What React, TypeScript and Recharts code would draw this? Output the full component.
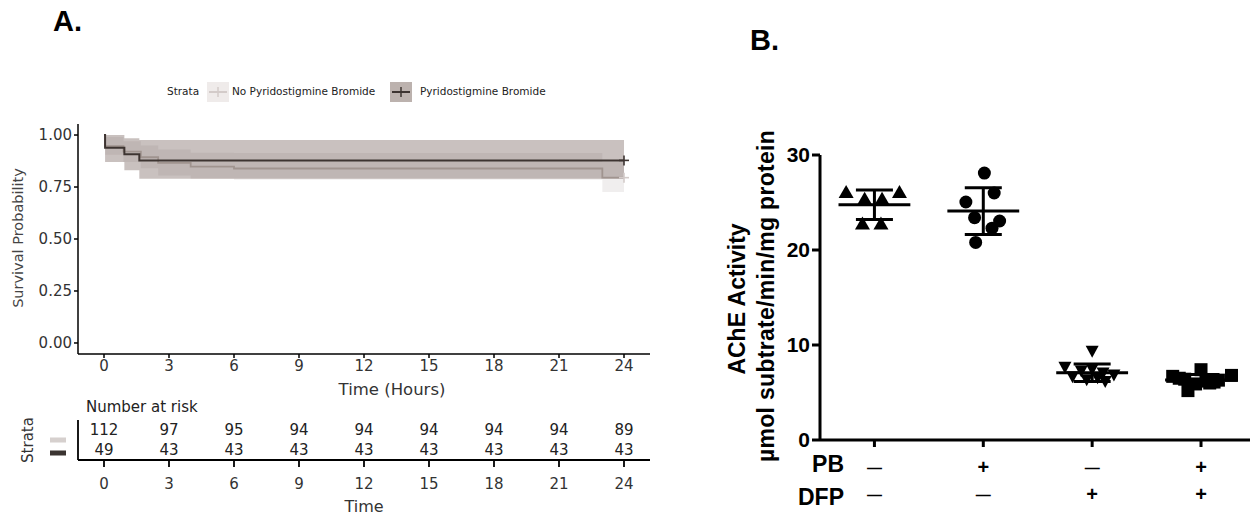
import React from "react";
import { ComposedChart, Line, Area, Scatter, XAxis, YAxis, ReferenceLine } from "recharts";

const FONT_A = "'DejaVu Sans', 'Liberation Sans', Arial, sans-serif";
const FONT_B = "'Liberation Sans', Arial, Helvetica, sans-serif";

// ---- Panel A: Kaplan-Meier survival ----
// No Pyridostigmine Bromide
const noPbTime = [0, 0.05, 0.9, 1.7, 2.5, 4.0, 6.0, 23.0, 24];
const noPbSurv = [1, 0.946, 0.92, 0.893, 0.866, 0.848, 0.839, 0.795, 0.795];
const noPbLower = [1, 0.905, 0.87, 0.84, 0.805, 0.79, 0.785, 0.726, 0.726];
const noPbUpper = [1, 0.99, 0.97, 0.95, 0.93, 0.915, 0.913, 0.87, 0.87];

// Pyridostigmine Bromide
const pbTime = [0, 0.05, 0.94, 1.63, 24];
const pbSurv = [1, 0.939, 0.908, 0.878, 0.878];
const pbLower = [1, 0.87, 0.83, 0.79, 0.79];
const pbUpper = [1, 1, 0.985, 0.976, 0.976];

const timeTicks = [0, 3, 6, 9, 12, 15, 18, 21, 24];
const survTicks = [0, 0.25, 0.5, 0.75, 1];

// number at risk table
const riskNoPb = [112, 97, 95, 94, 94, 94, 94, 94, 89];
const riskPb = [49, 43, 43, 43, 43, 43, 43, 43, 43];

// ---- Panel B: AChE activity ----
const groupIds = [1, 2, 3, 4];
const pbSigns = ["\u2014", "+", "\u2014", "+"];
const dfpSigns = ["\u2014", "\u2014", "+", "+"];
const actTicks = [0, 10, 20, 30];

const g1Vals = [26.1, 25.4, 25.4, 26.1, 22.8, 22.8];
const g1Jit = [-0.26, -0.09, 0.07, 0.23, -0.11, 0.06];
const g2Vals = [28.1, 25.05, 26.0, 23.4, 23.05, 22.3, 20.8];
const g2Jit = [0.01, -0.16, 0.1, -0.08, 0.15, 0.08, -0.07];
const g3Vals = [9.3, 7.6, 7.4, 7.2, 7.0, 6.8, 6.6, 6.5, 6.3, 6.1];
const g3Jit = [0, -0.25, 0.0, -0.1, 0.1, 0.2, -0.18, 0.05, -0.05, 0.12];
const g4Vals = [6.7, 6.8, 7.4, 5.2, 6.4, 6.1, 6.3, 5.9, 6.0, 6.2, 6.5];
const g4Jit = [-0.26, 0.28, 0.0, -0.12, -0.15, 0.12, 0.16, -0.05, 0.08, 0.05, -0.2];

const kmRows = (t: number[], s: number[], lo: number[], hi: number[]) =>
  t.map((time, i) => ({ time, surv: s[i], ci: [lo[i], hi[i]] }));

const noPbRows = kmRows(noPbTime, noPbSurv, noPbLower, noPbUpper);
const pbRows = kmRows(pbTime, pbSurv, pbLower, pbUpper);

const Cross = ({ cx, cy, fill }: any) => (
  <g stroke={fill} strokeWidth={1.6}>
    <line x1={cx - 5} x2={cx + 5} y1={cy} y2={cy} />
    <line x1={cx} x2={cx} y1={cy - 5} y2={cy + 5} />
  </g>
);

const LegendKey = ({ bg, line }: { bg: string; line: string }) => (
  <svg width={22} height={20} style={{ display: "block" }}>
    <rect width={22} height={20} fill={bg} />
    <line x1={2} x2={20} y1={10} y2={10} stroke={line} strokeWidth={2} />
    <line x1={11} x2={11} y1={5} y2={15} stroke={line} strokeWidth={1.5} />
  </svg>
);

const axisTickA = { fontSize: 15, fill: "#333", fontFamily: FONT_A };

function SurvivalPanel() {
  return (
    <ComposedChart width={660} height={290} margin={{ top: 14, right: 10, bottom: 0, left: 0 }}>
      <XAxis
        type="number"
        dataKey="time"
        domain={[-1.2, 25.2]}
        ticks={timeTicks}
        allowDataOverflow
        height={46}
        tickSize={4}
        tick={axisTickA}
        stroke="#000"
        strokeWidth={1.5}
      />
      <YAxis
        type="number"
        domain={[-0.053, 1.053]}
        ticks={survTicks}
        allowDataOverflow
        width={78}
        tickSize={4}
        tick={axisTickA}
        tickFormatter={(v: number) => v.toFixed(2)}
        stroke="#000"
        strokeWidth={1.5}
      />
      <Area
        data={pbRows}
        dataKey="ci"
        type="stepAfter"
        fill="rgb(120,100,95)"
        fillOpacity={0.4}
        stroke="none"
        isAnimationActive={false}
      />
      <Area
        data={noPbRows}
        dataKey="ci"
        type="stepAfter"
        fill="rgb(110,90,85)"
        fillOpacity={0.1}
        stroke="none"
        isAnimationActive={false}
      />
      <Line
        data={noPbRows}
        dataKey="surv"
        type="stepAfter"
        stroke="#a0948f"
        strokeWidth={1.8}
        dot={false}
        isAnimationActive={false}
      />
      <Line
        data={pbRows}
        dataKey="surv"
        type="stepAfter"
        stroke="#3d3431"
        strokeWidth={2}
        dot={false}
        isAnimationActive={false}
      />
      <Scatter data={[noPbRows[noPbRows.length - 1]]} dataKey="surv" fill="#d3cbc9" shape={Cross} isAnimationActive={false} />
      <Scatter data={[pbRows[pbRows.length - 1]]} dataKey="surv" fill="#3d3431" shape={Cross} isAnimationActive={false} />
    </ComposedChart>
  );
}

const riskRows = timeTicks.flatMap((time, i) => [
  { time, row: 2, n: riskNoPb[i] },
  { time, row: 1, n: riskPb[i] },
]);

const RiskText = ({ cx, cy, payload }: any) => (
  <text x={cx} y={cy} textAnchor="middle" dominantBaseline="central" fontSize={15} fill="#222" fontFamily={FONT_A}>
    {payload.n}
  </text>
);

const StrataKey = ({ y, payload }: any) => {
  const top = payload.value === 2;
  return <rect x={50} y={y + (top ? 7.5 : 0.5)} width={16} height={5} fill={top ? "#d6d0ce" : "#3a3431"} />;
};

function RiskTable() {
  return (
    <ComposedChart width={660} height={115} margin={{ top: 20, right: 10, bottom: 0, left: 0 }}>
      <XAxis
        type="number"
        dataKey="time"
        domain={[-1.2, 25.2]}
        ticks={timeTicks}
        allowDataOverflow
        height={55}
        tickSize={7}
        tick={{ ...axisTickA, dy: 9 }}
        stroke="#000"
        strokeWidth={1.8}
        label={{ value: "Time", position: "insideBottom", offset: 3, fontSize: 16, fill: "#333", fontFamily: FONT_A }}
      />
      <YAxis
        type="number"
        dataKey="row"
        domain={[0.5, 2.5]}
        ticks={[1, 2]}
        interval={0}
        width={78}
        tickLine={false}
        tick={StrataKey}
        stroke="#000"
        strokeWidth={1.8}
      />
      <Scatter data={riskRows} dataKey="row" shape={RiskText} isAnimationActive={false} />
    </ComposedChart>
  );
}

// ---- Panel B shapes ----
const TriUp = ({ cx, cy }: any) => (
  <polygon points={`${cx},${cy - 7} ${cx + 7.5},${cy + 6} ${cx - 7.5},${cy + 6}`} fill="#000" />
);
const TriDown = ({ cx, cy }: any) => (
  <polygon points={`${cx - 6.5},${cy - 6} ${cx + 6.5},${cy - 6} ${cx},${cy + 6}`} fill="#000" />
);
const Dot = ({ cx, cy }: any) => <circle cx={cx} cy={cy} r={6.5} fill="#000" />;
const Square = ({ cx, cy }: any) => <rect x={cx - 6.5} y={cy - 6.5} width={13} height={13} fill="#000" />;

const mean = (a: number[]) => a.reduce((s, v) => s + v, 0) / a.length;
const sd = (a: number[]) => {
  const m = mean(a);
  return Math.sqrt(a.reduce((s, v) => s + (v - m) * (v - m), 0) / (a.length - 1));
};

const groups = [
  { id: 1, vals: g1Vals, jit: g1Jit, shape: TriUp },
  { id: 2, vals: g2Vals, jit: g2Jit, shape: Dot },
  { id: 3, vals: g3Vals, jit: g3Jit, shape: TriDown },
  { id: 4, vals: g4Vals, jit: g4Jit, shape: Square },
];

const SignTick = ({ x, y, payload }: any) => {
  const i = groupIds.indexOf(payload.value);
  const txt = { textAnchor: "middle" as const, dominantBaseline: "central" as const, fontFamily: FONT_B, fontWeight: 700, fill: "#000" };
  return (
    <g>
      <text x={x} y={y + 18} fontSize={pbSigns[i] === "+" ? 20 : 15} {...txt}>{pbSigns[i]}</text>
      <text x={x} y={y + 45} fontSize={dfpSigns[i] === "+" ? 20 : 15} {...txt}>{dfpSigns[i]}</text>
    </g>
  );
};

function ActivityPanel() {
  const seg = { stroke: "#000", strokeWidth: 3, ifOverflow: "visible" as const };
  return (
    <ComposedChart width={560} height={385} margin={{ top: 25, right: 10, bottom: 0, left: 0 }}>
      <XAxis
        type="number"
        dataKey="x"
        domain={[0.5, 4.45]}
        ticks={groupIds}
        allowDataOverflow
        height={75}
        tickSize={7}
        tick={SignTick}
        stroke="#000"
        strokeWidth={3}
      />
      <YAxis
        type="number"
        dataKey="y"
        domain={[0, 30]}
        ticks={actTicks}
        width={120}
        tickSize={8}
        tick={{ fontSize: 21, fontWeight: 700, fill: "#000", fontFamily: FONT_B }}
        stroke="#000"
        strokeWidth={3}
      />
      {groups.map((g) => {
        const m = mean(g.vals);
        const s = sd(g.vals);
        return (
          <React.Fragment key={g.id}>
            <ReferenceLine segment={[{ x: g.id - 0.33, y: m }, { x: g.id + 0.33, y: m }]} {...seg} />
            <ReferenceLine segment={[{ x: g.id, y: m - s }, { x: g.id, y: m + s }]} {...seg} />
            <ReferenceLine segment={[{ x: g.id - 0.17, y: m + s }, { x: g.id + 0.17, y: m + s }]} {...seg} />
            <ReferenceLine segment={[{ x: g.id - 0.17, y: m - s }, { x: g.id + 0.17, y: m - s }]} {...seg} />
          </React.Fragment>
        );
      })}
      {groups.map((g) => (
        <Scatter
          key={`s${g.id}`}
          data={g.vals.map((y, i) => ({ x: g.id + g.jit[i], y }))}
          dataKey="y"
          shape={g.shape}
          isAnimationActive={false}
        />
      ))}
    </ComposedChart>
  );
}

export default function App() {
  const abs = (left: number, top: number): React.CSSProperties => ({ position: "absolute", left, top });
  const txtA: React.CSSProperties = { fontFamily: FONT_A, color: "#222", whiteSpace: "nowrap" };
  const bold: React.CSSProperties = { fontFamily: FONT_B, fontWeight: 700, color: "#000", whiteSpace: "nowrap" };
  const centered = (deg: number): React.CSSProperties => ({ transform: `translate(-50%, -50%) rotate(${deg}deg)` });
  return (
    <div style={{ position: "absolute", left: 0, top: 0, width: 1260, height: 515, background: "#fff", overflow: "hidden" }}>
      <div style={{ ...abs(53, 5), ...bold, fontSize: 29 }}>A.</div>
      <div style={{ ...abs(750, 24), ...bold, fontSize: 29 }}>B.</div>

      {/* legend of panel A */}
      <div style={{ ...abs(167, 85), ...txtA, fontSize: 10.5 }}>Strata</div>
      <div style={abs(207, 82)}>
        <LegendKey bg="#efebea" line="#d3cbc9" />
      </div>
      <div style={{ ...abs(232, 85), ...txtA, fontSize: 10.5 }}>No Pyridostigmine Bromide</div>
      <div style={abs(390, 82)}>
        <LegendKey bg="#bcb2ae" line="#3d3431" />
      </div>
      <div style={{ ...abs(420, 85), ...txtA, fontSize: 10.5 }}>Pyridostigmine Bromide</div>

      <div style={{ ...abs(18, 238), ...txtA, fontSize: 14.5, color: "#444", ...centered(-90) }}>
        Survival Probability
      </div>

      <div style={abs(0, 110)}>
        <SurvivalPanel />
      </div>
      <div style={{ ...abs(392, 389), ...txtA, fontSize: 16.5, color: "#333", ...centered(0) }}>Time (Hours)</div>

      <div style={{ ...abs(86, 398), ...txtA, fontSize: 15 }}>Number at risk</div>
      <div style={{ ...abs(28, 440), ...txtA, fontSize: 15, color: "#333", ...centered(-90) }}>Strata</div>
      <div style={abs(0, 400)}>
        <RiskTable />
      </div>

      {/* panel B */}
      <div style={abs(700, 130)}>
        <ActivityPanel />
      </div>
      <div style={{ ...abs(737, 299), ...bold, fontSize: 23, ...centered(-90) }}>AChE Activity</div>
      <div style={{ ...abs(766, 296), ...bold, fontSize: 23, letterSpacing: 0.3, ...centered(-90) }}>
        {"\u00b5mol subtrate/min/mg protein"}
      </div>
      <div style={{ ...abs(844, 451), ...bold, fontSize: 23, transform: "translateX(-100%)" }}>PB</div>
      <div style={{ ...abs(844, 484), ...bold, fontSize: 23, transform: "translateX(-100%)" }}>DFP</div>
    </div>
  );
}
